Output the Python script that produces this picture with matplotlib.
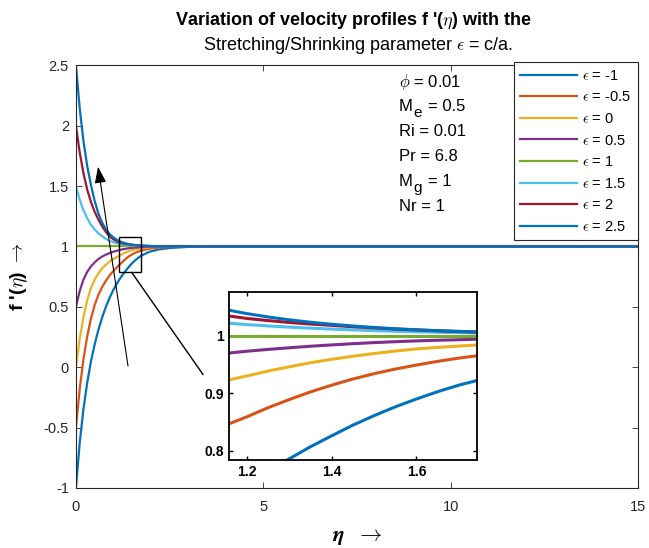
import numpy as np
import matplotlib
matplotlib.use("Agg")
import matplotlib.pyplot as plt
from matplotlib.patches import Rectangle
from matplotlib.transforms import offset_copy

plt.rcParams['font.family'] = ['Liberation Sans', 'DejaVu Sans']
plt.rcParams['mathtext.fontset'] = 'cm'

# eta grid and f'(eta) for each epsilon
eta = [0.0, 0.1, 0.2, 0.3, 0.4, 0.5, 0.6, 0.7, 0.8, 0.9, 1.0,
       1.1, 1.15, 1.2, 1.25, 1.3, 1.35, 1.4, 1.45, 1.5, 1.55, 1.6, 1.65, 1.7, 1.75, 1.8,
       1.9, 2.0, 2.2, 2.5, 3.0, 4.0, 15.0]

eps_labels = ['-1', '-0.5', '0', '0.5', '1', '1.5', '2', '2.5']

fp_m1 = [-1.0, -0.628, -0.349, -0.131, 0.047, 0.189, 0.309, 0.412, 0.5, 0.576, 0.641,
         0.696, 0.7216, 0.745, 0.7664, 0.786, 0.807, 0.826, 0.8445, 0.861, 0.8763,
         0.890, 0.9027, 0.914, 0.9235, 0.932,
         0.947, 0.959, 0.974, 0.987, 0.996, 1.0, 1.0]
fp_m05 = [-0.5, -0.182, 0.065, 0.253, 0.402, 0.515, 0.600, 0.664, 0.716, 0.760, 0.797,
          0.829, 0.8447, 0.859, 0.8749, 0.889, 0.9023, 0.914, 0.9247, 0.934, 0.942,
          0.949, 0.9554, 0.961, 0.9658, 0.970,
          0.977, 0.982, 0.989, 0.995, 0.999, 1.0, 1.0]
fp_0 = [0.0, 0.234, 0.414, 0.551, 0.656, 0.725, 0.778, 0.818, 0.849, 0.875, 0.896,
        0.913, 0.922, 0.930, 0.9385, 0.946, 0.953, 0.959, 0.9643, 0.969, 0.9733,
        0.977, 0.9797, 0.982, 0.9841, 0.986,
        0.990, 0.992, 0.995, 0.998, 1.0, 1.0, 1.0]
fp_05 = [0.5, 0.630, 0.725, 0.789, 0.834, 0.868, 0.895, 0.916, 0.932, 0.945, 0.956,
         0.965, 0.9693, 0.973, 0.9762, 0.979, 0.9817, 0.984, 0.9861, 0.988, 0.9896,
         0.991, 0.9921, 0.993, 0.9941, 0.995,
         0.996, 0.997, 0.998, 0.999, 1.0, 1.0, 1.0]
fp_1 = [1.0] * 33
fp_15 = [1.5, 1.3875, 1.300, 1.233, 1.180, 1.140, 1.108, 1.084, 1.062, 1.046, 1.034,
         1.0256, 1.0222, 1.0193, 1.0170, 1.0149, 1.0131, 1.0115, 1.0101, 1.0088, 1.0077,
         1.0068, 1.0060, 1.0053, 1.0046, 1.004,
         1.003, 1.0024, 1.0014, 1.0005, 1.0, 1.0, 1.0]
fp_2 = [2.0, 1.779, 1.607, 1.472, 1.368, 1.287, 1.222, 1.166, 1.119, 1.083, 1.058,
        1.041, 1.0351, 1.030, 1.0263, 1.023, 1.0203, 1.018, 1.0156, 1.0135, 1.0116,
        1.010, 1.0085, 1.0072, 1.0061, 1.0052,
        1.0038, 1.0029, 1.0016, 1.0006, 1.0, 1.0, 1.0]
fp_25 = [2.5, 2.145, 1.874, 1.667, 1.509, 1.376, 1.272, 1.196, 1.142, 1.1025, 1.074,
         1.0534, 1.0453, 1.0384, 1.0326, 1.0276, 1.0234, 1.0199, 1.0169, 1.0143, 1.0121,
         1.0103, 1.0088, 1.0076, 1.0065, 1.0056,
         1.004, 1.0031, 1.0016, 1.0006, 1.0, 1.0, 1.0]

curves = [fp_m1, fp_m05, fp_0, fp_05, fp_1, fp_15, fp_2, fp_25]
colors = ['#0072BD', '#D95319', '#EDB120', '#7E2F8E', '#77AC30', '#4DBEEE',
          '#A2142F', '#0072BD']

# (main text, subscript, rest)
params = [(r'$\phi$ = 0.01', '', ''), ('M', 'e', '= 0.5'), ('Ri = 0.01', '', ''),
          ('Pr = 6.8', '', ''), ('M', 'g', '= 1'), ('Nr = 1', '', '')]

fig = plt.figure(figsize=(6.49, 5.48), dpi=100)
ax = fig.add_axes([0.117, 0.1095, 0.866, 0.7715])

for y, c, lab in zip(curves, colors, eps_labels):
    ax.plot(eta, y, color=c, lw=1.6, label=r'$\epsilon$ = ' + lab)

ax.set_xlim(0, 15)
ax.set_ylim(-1, 2.5)
ax.set_xticks([0, 5, 10, 15])
ax.set_yticks([-1, -0.5, 0, 0.5, 1, 1.5, 2, 2.5])
ax.set_yticklabels(['-1', '-0.5', '0', '0.5', '1', '1.5', '2', '2.5'])
ax.tick_params(direction='in', top=True, right=True, labelsize=10.5,
               colors='#262626', length=4, width=0.6)
ax.tick_params(axis='x', pad=9)
ax.tick_params(axis='y', pad=5)
for s in ax.spines.values():
    s.set_color('#262626')
    s.set_linewidth(0.8)

leg = ax.legend(loc='upper right', bbox_to_anchor=(1.0, 1.007), fontsize=10.5,
                handlelength=3.9, handletextpad=0.35, labelspacing=0.52,
                borderaxespad=0.0, fancybox=False, framealpha=1,
                edgecolor='#262626', borderpad=0.45)
leg.get_frame().set_linewidth(0.8)

# parameter block
ys = [82, 106, 131, 156, 181, 206]
for (txt, sub, rest), yp in zip(params, ys):
    yf = (488 - yp) / 423
    ax.text(0.575, yf, txt, transform=ax.transAxes,
            fontsize=12, va='center', ha='left', color='black')
    if sub:
        tr = offset_copy(ax.transAxes, fig=fig, x=10.5, y=-5, units='points')
        ax.text(0.575, yf, sub, transform=tr, fontsize=11, va='center', ha='left')
        tr2 = offset_copy(ax.transAxes, fig=fig, x=21, y=0, units='points')
        ax.text(0.575, yf, rest, transform=tr2, fontsize=12, va='center', ha='left')

# zoom box and connecting line
x0, x1, y0, y1 = 1.158, 1.743, 0.784, 1.076
ax.add_patch(Rectangle((x0, y0), x1 - x0, y1 - y0, fill=False, ec='black', lw=1.0, zorder=5))
ax.plot([1.49, 3.39], [0.784, -0.06], color='black', lw=1.0)

# direction arrow
ax.annotate('', xy=(0.59, 1.66), xytext=(1.39, 0.01),
            arrowprops=dict(arrowstyle='-|>,head_length=1.0,head_width=0.35',
                            color='black', lw=0.8, shrinkA=0, shrinkB=0))

ax.set_xlabel(r'$\boldsymbol{\eta}$  $\rightarrow$', fontsize=16, labelpad=8)
ax.set_ylabel(r"f '($\eta$) $\rightarrow$", fontsize=14, fontweight='bold', labelpad=10)

fig.text(0.545, 0.963, r"Variation of velocity profiles f '($\eta$) with the",
         ha='center', va='center', fontsize=13, fontweight='bold')
fig.text(0.552, 0.917, r'Stretching/Shrinking parameter $\epsilon$ = c/a.',
         ha='center', va='center', fontsize=13)

# inset
axi = fig.add_axes([0.3529, 0.1606, 0.3821, 0.3066])
for y, c in zip(curves, colors):
    axi.plot(eta, y, color=c, lw=2.2)
axi.set_xlim(x0, x1)
axi.set_ylim(y0, y1)
axi.set_xticks([1.2, 1.4, 1.6])
axi.set_yticks([0.8, 0.9, 1.0])
axi.set_yticklabels(['0.8', '0.9', '1'])
axi.tick_params(direction='in', top=True, right=True, labelsize=10, length=3, width=1)
for lab in axi.get_xticklabels() + axi.get_yticklabels():
    lab.set_fontweight('bold')
for s in axi.spines.values():
    s.set_color('black')
    s.set_linewidth(1.3)

fig.savefig('out.png', dpi=100)
